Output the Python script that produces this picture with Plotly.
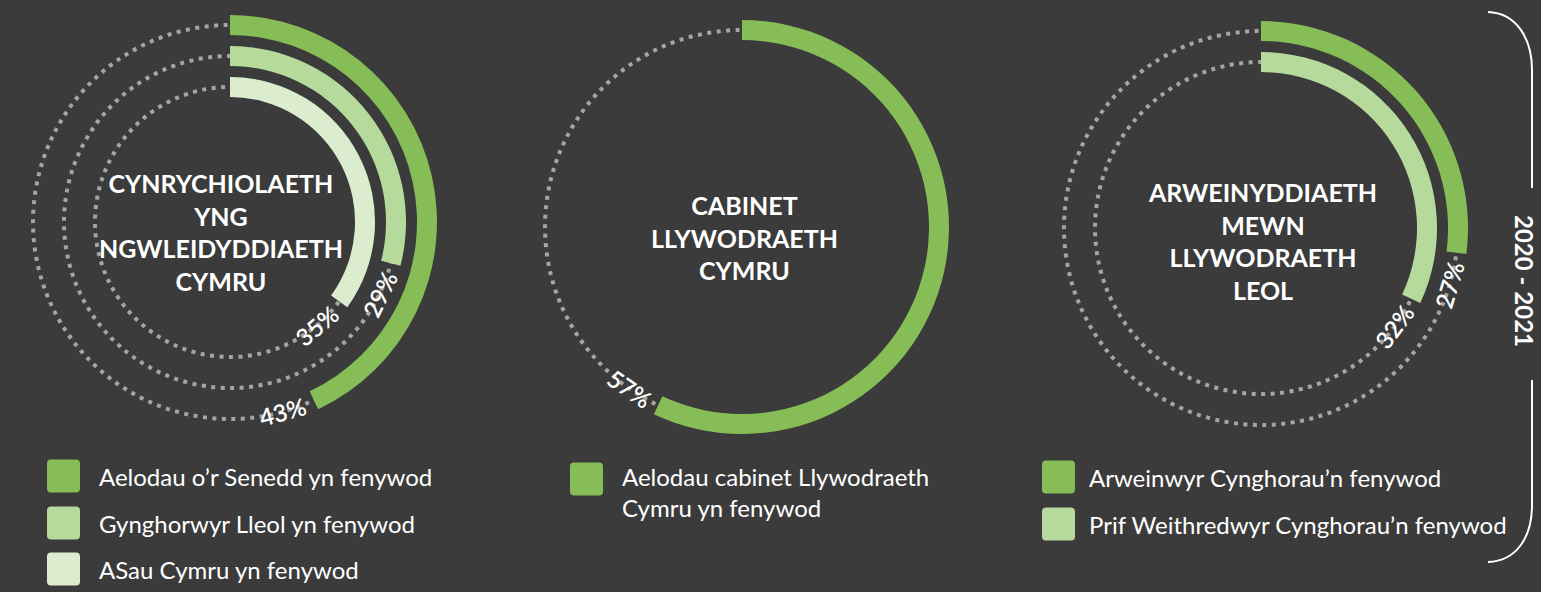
import numpy as np
import plotly.graph_objects as go

# ---------------- data ----------------
panel_titles = [
    "CYNRYCHIOLAETH<br>YNG<br>NGWLEIDYDDIAETH<br>CYMRU",
    "CABINET<br>LLYWODRAETH<br>CYMRU",
    "ARWEINYDDIAETH<br>MEWN<br>LLYWODRAETH<br>LEOL",
]
p1_series = ["Aelodau o’r Senedd yn fenywod", "Gynghorwyr Lleol yn fenywod", "ASau Cymru yn fenywod"]
p1_values = [43, 29, 35]
p2_series = ["Aelodau cabinet Llywodraeth<br>Cymru yn fenywod"]
p2_values = [57]
p3_series = ["Arweinwyr Cynghorau’n fenywod", "Prif Weithredwyr Cynghorau’n fenywod"]
p3_values = [27, 32]
period_label = "2020 - 2021"

# ---------------- style / layout ----------------
W, H = 1541, 592
BG = "#3b3b3b"
GREENS = ["#86bd56", "#b6d99c", "#dcedcf"]
DOT = "#a5a5a5"
FONT = "Lato"
R = 210
BANDS = [(187, 207), (156, 176), (125, 145)]

panels = [
    dict(cx=230, cy=222, series=p1_series, values=p1_values, title=panel_titles[0], tdx=-9, tdy=-10,
         leg_x=47, leg_text_x=97, leg_y=[476, 523, 569]),
    dict(cx=742, cy=227, series=p2_series, values=p2_values, title=panel_titles[1], tdx=2, tdy=-10,
         leg_x=570, leg_text_x=620, leg_y=[479], leg_text_y=[492]),
    dict(cx=1261, cy=228, series=p3_series, values=p3_values, title=panel_titles[2], tdx=1, tdy=-13,
         leg_x=1042, leg_text_x=1087, leg_y=[477, 524]),
]

fig = go.Figure()
shapes = []
annotations = []


def rounded_rect(x0, y0, s, rad):
    x1, y1 = x0 + s, y0 + s
    return (f"M {x0+rad},{y0} L {x1-rad},{y0} Q {x1},{y0} {x1},{y0+rad} "
            f"L {x1},{y1-rad} Q {x1},{y1} {x1-rad},{y1} L {x0+rad},{y1} "
            f"Q {x0},{y1} {x0},{y1-rad} L {x0},{y0+rad} Q {x0},{y0} {x0+rad},{y0} Z")


for i, p in enumerate(panels):
    sfx = "" if i == 0 else str(i + 1)
    cx, cy = p["cx"], p["cy"]
    dom_x = [(cx - R) / W, (cx + R) / W]
    dom_y = [1 - (cy + R) / H, 1 - (cy - R) / H]
    fig.update_layout(**{
        f"polar{sfx}": dict(
            domain=dict(x=dom_x, y=dom_y),
            bgcolor="rgba(0,0,0,0)",
            radialaxis=dict(visible=False, range=[0, R]),
            angularaxis=dict(visible=False, rotation=90, direction="clockwise"),
        ),
        f"xaxis{sfx}": dict(domain=dom_x, range=[-R, R], visible=False, fixedrange=True,
                            anchor=f"y{sfx}"),
        f"yaxis{sfx}": dict(domain=dom_y, range=[-R, R], visible=False, fixedrange=True,
                            anchor=f"x{sfx}"),
    })
    fig.add_trace(go.Scatter(x=[None], y=[None], xaxis=f"x{sfx}", yaxis=f"y{sfx}",
                             showlegend=False, hoverinfo="skip"))

    for j, (name, v) in enumerate(zip(p["series"], p["values"])):
        b0, b1 = BANDS[j]
        rm = (b0 + b1) / 2
        # dotted track
        shapes.append(dict(type="circle", xref=f"x{sfx}", yref=f"y{sfx}",
                           x0=-rm, x1=rm, y0=-rm, y1=rm, layer="below",
                           line=dict(color=DOT, width=4, dash="4px,5.5px")))
        # arc
        ang = v * 3.6
        fig.add_trace(go.Barpolar(
            r=[b1 - b0], base=[b0], theta=[ang / 2], width=[ang],
            marker=dict(color=GREENS[j], line=dict(width=0)),
            subplot=f"polar{sfx}", showlegend=False, name=name.replace("<br>", " "),
            hovertemplate=f"{v}%<extra></extra>",
        ))
        # percentage label
        a = ang + np.degrees(33 / rm)
        annotations.append(dict(
            xref=f"x{sfx}", yref=f"y{sfx}",
            x=rm * np.sin(np.radians(a)), y=rm * np.cos(np.radians(a)),
            text=f"{v}%", textangle=a - 180, showarrow=False,
            xanchor="center", yanchor="middle",
            font=dict(family=FONT, size=24, color="white", weight=600),
        ))
        # legend swatch + text (pixel axis)
        ly = p["leg_y"][j]
        shapes.append(dict(type="path", xref="x4", yref="y4",
                           path=rounded_rect(p["leg_x"], ly - 16.5, 33, 4),
                           fillcolor=GREENS[j], line=dict(width=0), layer="above"))
        ty = p.get("leg_text_y", p["leg_y"])[j]
        annotations.append(dict(
            xref="x4", yref="y4", x=p["leg_text_x"], y=ty, text=name,
            showarrow=False, xanchor="left", yanchor="middle", align="left",
            font=dict(family=FONT, size=24, color="white"),
        ))

    # panel title
    annotations.append(dict(
        xref=f"x{sfx}", yref=f"y{sfx}", x=p["tdx"], y=p["tdy"], text=p["title"],
        showarrow=False, xanchor="center", yanchor="middle", align="center",
        font=dict(family=FONT, size=25, color="white", weight="bold"),
    ))

# full-figure pixel axis for legend and bracket
fig.update_layout(
    xaxis4=dict(domain=[0, 1], range=[0, W], visible=False, fixedrange=True, anchor="y4"),
    yaxis4=dict(domain=[0, 1], range=[H, 0], visible=False, fixedrange=True, anchor="x4"),
)
fig.add_trace(go.Scatter(x=[None], y=[None], xaxis="x4", yaxis="y4",
                         showlegend=False, hoverinfo="skip"))

# bracket
shapes.append(dict(type="path", xref="x4", yref="y4", layer="above",
                   path="M 1488,12 C 1516,13 1532,38 1532,70 L 1532,188",
                   line=dict(color="white", width=2)))
shapes.append(dict(type="path", xref="x4", yref="y4", layer="above",
                   path="M 1532,380 L 1532,505 C 1532,538 1516,561 1488,562",
                   line=dict(color="white", width=2)))
annotations.append(dict(
    xref="x4", yref="y4", x=1525, y=281, text=period_label, textangle=90,
    showarrow=False, xanchor="center", yanchor="middle",
    font=dict(family=FONT, size=24, color="white", weight="bold"),
))

fig.update_layout(
    width=W, height=H,
    margin=dict(l=0, r=0, t=0, b=0),
    paper_bgcolor=BG, plot_bgcolor="rgba(0,0,0,0)",
    showlegend=False,
    shapes=shapes, annotations=annotations,
)

fig.write_html(
    "out.html",
    config={"displayModeBar": False},
    post_script="document.body.style.margin='0';document.body.style.padding='0';"
                "document.body.style.overflow='hidden';document.body.style.background='#3b3b3b';",
)
